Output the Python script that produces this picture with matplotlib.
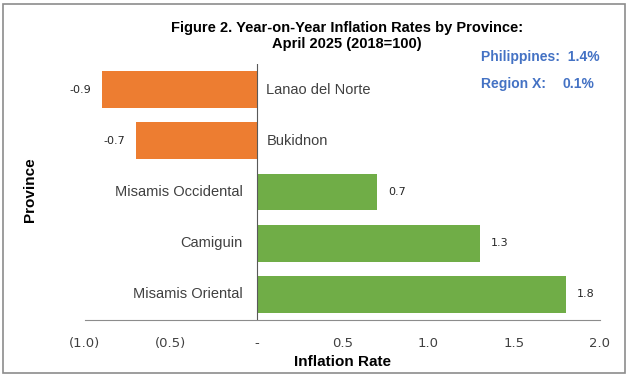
import matplotlib.pyplot as plt
from matplotlib.patches import Rectangle

provinces = ['Misamis Oriental', 'Camiguin', 'Misamis Occidental', 'Bukidnon', 'Lanao del Norte']
rates = [1.8, 1.3, 0.7, -0.7, -0.9]
ticks = [-1.0, -0.5, 0.0, 0.5, 1.0, 1.5, 2.0]
tick_labels = ['(1.0)', '(0.5)', '-', '0.5', '1.0', '1.5', '2.0']

W, H = 631, 378
fig = plt.figure(figsize=(W / 100, H / 100), dpi=100)
fig.patches.append(Rectangle((3 / W, 5 / H), 622 / W, 369 / H, transform=fig.transFigure,
                             fill=False, edgecolor='#8c8c8c', linewidth=1.2))

ax = fig.add_axes([85 / W, 1 - 320 / H, 515 / W, 256 / H])
colors = ['#70AD47' if r >= 0 else '#ED7D31' for r in rates]
y = range(len(provinces))
ax.barh(y, rates, height=0.72, color=colors, zorder=2)
ax.set_xlim(-1.0, 2.0)
ax.set_ylim(-0.5, len(provinces) - 0.5)

label_font = dict(family=['Liberation Sans', 'DejaVu Sans'], fontsize=10.5, color='#404040')
for i, (p, r) in enumerate(zip(provinces, rates)):
    if r >= 0:
        ax.annotate(p, (0, i), xytext=(-10, 0), textcoords='offset points',
                    ha='right', va='center', **label_font)
        ax.annotate(f'{r:.1f}', (r, i), xytext=(8, 0), textcoords='offset points',
                    ha='left', va='center', fontsize=8, color='#262626')
    else:
        ax.annotate(p, (0, i), xytext=(7, 0), textcoords='offset points',
                    ha='left', va='center', **label_font)
        ax.annotate(f'{r:.1f}', (r, i), xytext=(-8, 0), textcoords='offset points',
                    ha='right', va='center', fontsize=8, color='#262626')

ax.axvline(0, color='#595959', linewidth=0.8, zorder=3)
for s in ['top', 'right', 'left']:
    ax.spines[s].set_visible(False)
ax.spines['bottom'].set_color('#8c8c8c')
ax.set_yticks([])
ax.set_xticks(ticks)
ax.set_xticklabels(tick_labels, fontsize=9.5, color='#404040')
ax.tick_params(axis='x', length=0, pad=12)

bold_font = ['Liberation Sans Narrow', 'Liberation Sans']
ax.set_xlabel('Inflation Rate', fontsize=11, fontweight='bold', family=bold_font, labelpad=4)
fig.text(30 / W, 1 - 190 / H, 'Province', rotation=90, fontsize=11, fontweight='bold',
         family=bold_font, ha='center', va='center')

fig.text(347 / W, 1 - 36 / H, 'Figure 2. Year-on-Year Inflation Rates by Province:\nApril 2025 (2018=100)',
         ha='center', va='center', fontsize=10.5, fontweight='bold', linespacing=1.1,
         family=bold_font)
fig.text(481 / W, 1 - 57 / H, 'Philippines:  1.4%', ha='left', va='center', fontsize=10,
         fontweight='bold', color='#4472C4', family=bold_font)
fig.text(481 / W, 1 - 84 / H, 'Region X:', ha='left', va='center', fontsize=10,
         fontweight='bold', color='#4472C4', family=bold_font)
fig.text(594 / W, 1 - 84 / H, '0.1%', ha='right', va='center', fontsize=10,
         fontweight='bold', color='#4472C4', family=bold_font)

fig.savefig('out.png', dpi=100)
